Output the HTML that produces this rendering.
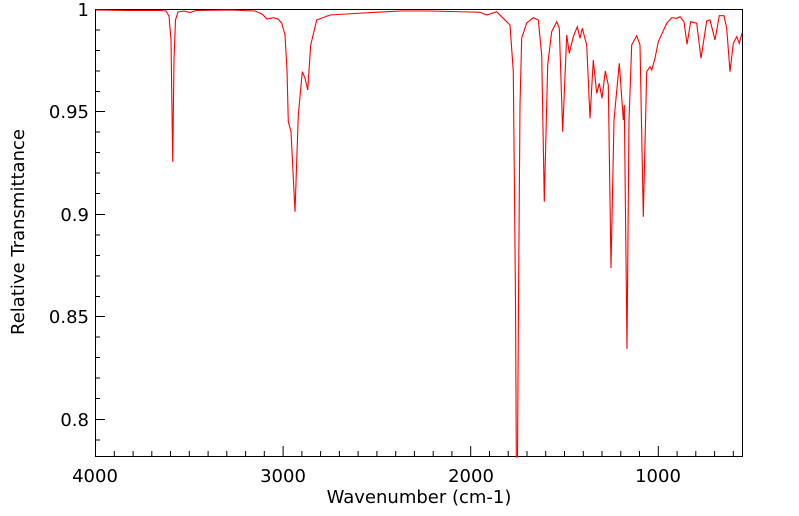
<!DOCTYPE html>
<html><head><style>
html,body{margin:0;padding:0;background:#fff;}
svg{display:block;font-family:"DejaVu Sans","Liberation Sans",sans-serif;}
</style></head><body>
<svg width="799" height="516" viewBox="0 0 799 516" xmlns="http://www.w3.org/2000/svg">
<rect width="799" height="516" fill="#fff"/>
<g stroke="#000" stroke-width="1" fill="none">
<rect x="95.5" y="9.5" width="647" height="447"/>
</g>
<g stroke="#000" stroke-width="1">
<line x1="95" y1="9.5" x2="105" y2="9.5"/>
<line x1="95" y1="111.5" x2="105" y2="111.5"/>
<line x1="95" y1="214.5" x2="105" y2="214.5"/>
<line x1="95" y1="316.5" x2="105" y2="316.5"/>
<line x1="95" y1="419.5" x2="105" y2="419.5"/>
<line x1="95" y1="30" x2="100" y2="30"/><line x1="95" y1="50.5" x2="100" y2="50.5"/><line x1="95" y1="71" x2="100" y2="71"/><line x1="95" y1="91.5" x2="100" y2="91.5"/>
<line x1="95" y1="132" x2="100" y2="132"/><line x1="95" y1="152.5" x2="100" y2="152.5"/><line x1="95" y1="173" x2="100" y2="173"/><line x1="95" y1="193.5" x2="100" y2="193.5"/>
<line x1="95" y1="235" x2="100" y2="235"/><line x1="95" y1="255.5" x2="100" y2="255.5"/><line x1="95" y1="276" x2="100" y2="276"/><line x1="95" y1="296.5" x2="100" y2="296.5"/>
<line x1="95" y1="337" x2="100" y2="337"/><line x1="95" y1="357.5" x2="100" y2="357.5"/><line x1="95" y1="378" x2="100" y2="378"/><line x1="95" y1="398.5" x2="100" y2="398.5"/>
<line x1="95" y1="440" x2="100" y2="440"/>
</g>
<g stroke="#000" stroke-width="1">
<line x1="114.3" y1="456" x2="114.3" y2="451"/><line x1="133.1" y1="456" x2="133.1" y2="451"/><line x1="151.8" y1="456" x2="151.8" y2="451"/><line x1="170.5" y1="456" x2="170.5" y2="451"/><line x1="189.3" y1="456" x2="189.3" y2="451"/><line x1="208.1" y1="456" x2="208.1" y2="451"/><line x1="226.8" y1="456" x2="226.8" y2="451"/><line x1="245.6" y1="456" x2="245.6" y2="451"/><line x1="264.3" y1="456" x2="264.3" y2="451"/>
<line x1="283.1" y1="456" x2="283.1" y2="446"/>
<line x1="301.9" y1="456" x2="301.9" y2="451"/><line x1="320.6" y1="456" x2="320.6" y2="451"/><line x1="339.4" y1="456" x2="339.4" y2="451"/><line x1="358.1" y1="456" x2="358.1" y2="451"/><line x1="376.9" y1="456" x2="376.9" y2="451"/><line x1="395.7" y1="456" x2="395.7" y2="451"/><line x1="414.4" y1="456" x2="414.4" y2="451"/><line x1="433.2" y1="456" x2="433.2" y2="451"/><line x1="451.9" y1="456" x2="451.9" y2="451"/>
<line x1="470.7" y1="456" x2="470.7" y2="446"/>
<line x1="489.5" y1="456" x2="489.5" y2="451"/><line x1="508.2" y1="456" x2="508.2" y2="451"/><line x1="527" y1="456" x2="527" y2="451"/><line x1="545.7" y1="456" x2="545.7" y2="451"/><line x1="564.5" y1="456" x2="564.5" y2="451"/><line x1="583.3" y1="456" x2="583.3" y2="451"/><line x1="602" y1="456" x2="602" y2="451"/><line x1="620.8" y1="456" x2="620.8" y2="451"/><line x1="639.5" y1="456" x2="639.5" y2="451"/>
<line x1="658.3" y1="456" x2="658.3" y2="446"/>
<line x1="677.1" y1="456" x2="677.1" y2="451"/><line x1="695.8" y1="456" x2="695.8" y2="451"/><line x1="714.6" y1="456" x2="714.6" y2="451"/><line x1="733.3" y1="456" x2="733.3" y2="451"/>
</g>
<g font-size="18" fill="#000">
<text x="89" y="16" text-anchor="end">1</text>
<text x="89" y="118" text-anchor="end">0.95</text>
<text x="89" y="221" text-anchor="end">0.9</text>
<text x="89" y="323" text-anchor="end">0.85</text>
<text x="89" y="426" text-anchor="end">0.8</text>
<text x="95" y="482" text-anchor="middle">4000</text>
<text x="283" y="482" text-anchor="middle">3000</text>
<text x="471" y="482" text-anchor="middle">2000</text>
<text x="658" y="482" text-anchor="middle">1000</text>
<text x="419" y="503" text-anchor="middle">Wavenumber (cm-1)</text>
<text transform="translate(24,232) rotate(-90)" text-anchor="middle">Relative Transmittance</text>
</g>
<path fill="none" stroke="#f00" stroke-width="1.1" d="M96,10 L130,10.5 L160,10.5 L166,11 L169,16 L171,40 L172.7,161.7 L174,60 L175.5,20 L178,12 L184,11 L190,12.5 L196,10.5 L230,10 L255,11 L262,14 L267,19 L273,17.7 L278,19 L281.7,23 L285,35 L287,70 L288.3,121.7 L291,131.7 L295,211.7 L298.3,115 L302.3,71.7 L305,78 L307.7,90 L310.7,45 L316.7,20 L330,15 L363,13 L400,11 L430,11 L450,11.5 L470,12 L480,12.3 L486.7,15 L496.7,11.7 L503.3,18.3 L510,25 L513.3,71.7 L515.5,300 L516.3,457 L517.5,457 L518.5,300 L520,105 L521.7,38 L526.7,23 L533.3,17.7 L538.3,20 L541.7,55 L544.3,201.7 L547.7,65 L551.7,31.7 L556.7,21.7 L559.3,28.3 L562.7,131.7 L566.7,35 L569.3,53.3 L573.3,36.7 L577.3,26.7 L580,38.3 L582.3,28.3 L586.7,45 L590,118.3 L593.3,60 L596.7,93.3 L599.3,83.3 L602,98.3 L605.3,71 L608.3,85 L611,268 L614,120 L619.3,63.3 L623.3,120 L624.3,105 L627,349 L629,120 L631.7,45 L636.7,35.7 L640,45 L643.3,216.7 L646.7,71.7 L650,66.7 L651.7,70 L655,58.3 L658.3,41.7 L666.7,23.3 L671.7,17.7 L676.7,18.3 L680,16.7 L684,21.7 L687,44.3 L690.7,21.7 L696.7,23.3 L701,58.3 L706.7,21 L710,20 L715,40 L719.3,15.7 L724,15.7 L726.7,28.3 L730,71.7 L733.3,43.3 L736.7,36.7 L739.3,43.3 L742,33"/>
</svg>
</body></html>
